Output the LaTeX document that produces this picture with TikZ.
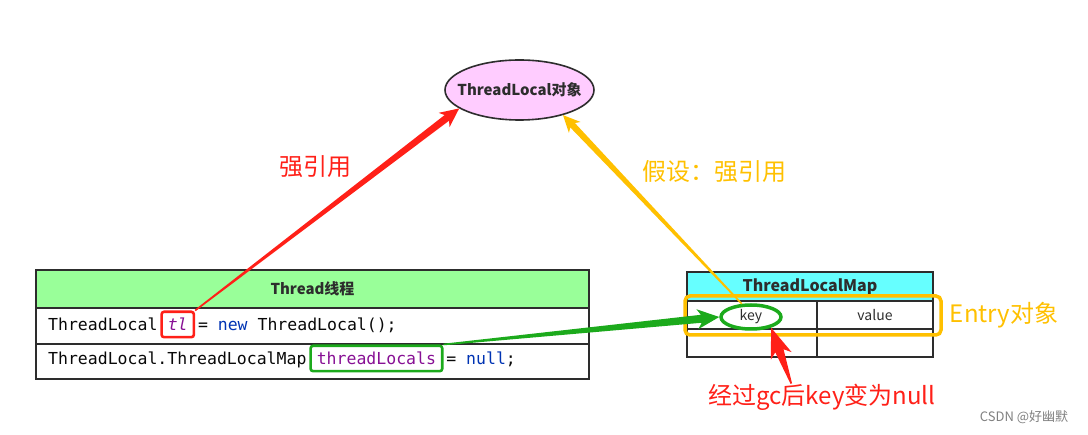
\documentclass[tikz,border=0pt]{standalone}
\usepackage{fontspec}
\setmainfont{Noto Sans CJK SC}
\setmonofont{DejaVu Sans Mono}
\usetikzlibrary{calc,fit,positioning,shapes}
\definecolor{thgreen}{RGB}{153,255,153}
\definecolor{mapcyan}{RGB}{102,255,255}
\definecolor{objpink}{RGB}{255,204,255}
\definecolor{framegray}{RGB}{45,45,45}
\definecolor{tlred}{RGB}{255,32,24}
\definecolor{amber}{RGB}{255,192,0}
\definecolor{refgreen}{RGB}{28,170,28}
\definecolor{fieldpurple}{RGB}{135,16,148}
\definecolor{kwblue}{RGB}{0,51,179}
\definecolor{codeblack}{RGB}{8,8,8}

\newcommand{\wedgearrow}[5]{%
  \coordinate (wa-b) at ($(#3)!#4!(#2)$);
  \coordinate (wa-n) at ($(#3)!#4*0.82!(#2)$);
  \fill[#1] ($(#2)!0.8pt!90:(#3)$) -- ($(wa-n)!0.4*#5!90:(#3)$) -- ($(wa-b)!#5!90:(#3)$)
    -- (#3) -- ($(wa-b)!#5!-90:(#3)$) -- ($(wa-n)!0.4*#5!-90:(#3)$) -- ($(#2)!0.8pt!-90:(#3)$) -- cycle;}

\begin{document}
\begin{tikzpicture}
  [x=1pt,y=-1pt,
   every node/.style={inner sep=0pt},
   cell/.style={draw=framegray,line width=1.6pt,outer sep=0pt,anchor=north west},
   title/.style={font=\bfseries\fontsize{15}{18}\selectfont,text=framegray},
   plain/.style={font=\fontsize{14}{16}\selectfont,text=framegray},
   code/.style={font=\ttfamily\fontsize{16.5}{20}\selectfont,text=codeblack,anchor=base west,text height=13pt,text depth=0pt},
   markbox/.style={draw,rounded corners=2.5pt,line width=2.6pt,inner xsep=6pt,inner ysep=6pt},
   tag/.style={font=\fontsize{24}{28}\selectfont},
   objell/.style={ellipse,draw=framegray,fill=objpink,line width=1.6pt,minimum width=149pt,minimum height=60pt},
   keyring/.style={ellipse,draw=refgreen,line width=3.5pt,minimum width=60pt,minimum height=24pt,plain},
   entrybox/.style={draw=amber,line width=3.5pt,rounded corners=5pt,minimum width=256pt,minimum height=39pt}]
  \useasboundingbox (0,0) rectangle (1088,435);

  \node[objell,label={[title]center:ThreadLocal对象}] (tlo) at (519.5,90) {};

  \node[cell,fill=thgreen,minimum width=553pt,minimum height=38pt,title] (thread) at (36,270) {Thread线程};
  \node[cell,minimum width=553pt,minimum height=36pt] (row1) at (thread.south west) {};
  \node[cell,minimum width=553pt,minimum height=35pt] (row2) at (row1.south west) {};

  \node[code] (c1a) at (48,331) {ThreadLocal\ \mbox{}};
  \node[code,text=fieldpurple] (tl) at (c1a.base east) {\itshape tl};
  \node[code] (c1b) at (tl.base east) {\mbox{}\ = \textcolor{kwblue}{new} ThreadLocal();};
  \node[code] (c2a) at (48,365) {ThreadLocal.ThreadLocalMap\ \mbox{}};
  \node[code,text=fieldpurple] (locals) at (c2a.base east) {threadLocals};
  \node[code] (c2b) at (locals.base east) {\mbox{}\ = \textcolor{kwblue}{null};};
  \node[markbox,draw=tlred,fit=(tl)] (tlbox) {};
  \node[markbox,draw=refgreen,fit=(locals)] (localsbox) {};

  \node[cell,fill=mapcyan,minimum width=246pt,minimum height=29pt,title,font=\bfseries\fontsize{16}{18}\selectfont] (map) at (687,272) {ThreadLocalMap};
  \node[cell,minimum width=130pt,minimum height=28pt] (keycell) at (map.south west) {};
  \node[cell,minimum width=116pt,minimum height=28pt,plain] (valcell) at (keycell.north east) {value};
  \node[cell,minimum width=130pt,minimum height=28pt] (lowkey) at (keycell.south west) {};
  \node[cell,minimum width=116pt,minimum height=28pt] (lowval) at (lowkey.north east) {};
  \node[entrybox] (entry) at (813,315.5) {};
  \node[tag,text=amber,right=7pt of entry] (entrytag) {Entry对象};
  \node[keyring] (key) at (751,317) {key};

  \node[tag,text=tlred] (stronglbl) at (315,167) {强引用};
  \node[tag,text=amber] (assumelbl) at (714,172) {假设：强引用};
  \node[tag,text=tlred] (gclbl) at (822,397) {经过gc后key变为null};
  \node[font=\fontsize{13}{15}\selectfont,text=gray] (csdn) at (1024,417) {CSDN @好幽默};

  \wedgearrow{tlred}{tlbox.north east}{tlo.197}{19pt}{9pt}
  \wedgearrow{amber}{key.125}{tlo.330}{17pt}{8pt}
  \wedgearrow{refgreen}{localsbox.north east}{key.west}{22pt}{10pt}
  \coordinate (gctail) at ($(gclbl.north)!0.27!(gclbl.north west)$);
  \wedgearrow{tlred}{gctail}{key.-28}{30pt}{11pt}
\end{tikzpicture}
\end{document}
